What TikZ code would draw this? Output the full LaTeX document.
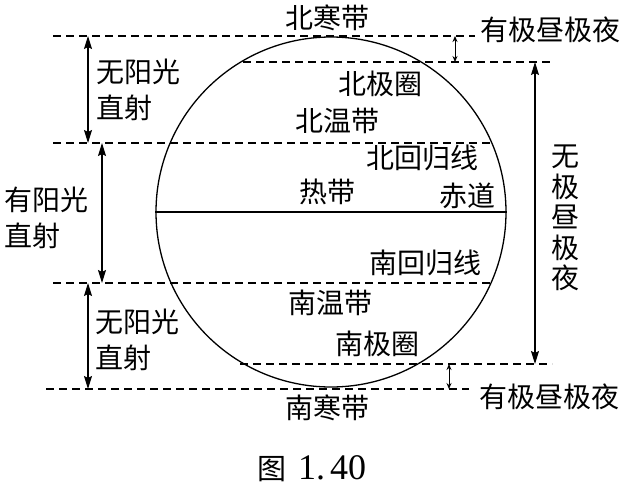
\documentclass[tikz,border=0pt]{standalone}
\usepackage{fontspec}
\setmainfont{Liberation Serif}
\newfontfamily\cjk{Noto Sans CJK SC}
\usetikzlibrary{arrows.meta,positioning}

\begin{document}
\begin{tikzpicture}[
    x=1pt, y=-1pt,
    lab/.style={font=\cjk\fontsize{28}{36}\selectfont, inner sep=0pt},
    side/.style={lab, align=left, anchor=west},
    lat/.style={dash pattern=on 8pt off 5pt, line width=1.1pt},
    spanarrow/.style={{Stealth[length=13pt,width=8pt,inset=2pt]}-{Stealth[length=13pt,width=8pt,inset=2pt]}, line width=1.1pt},
    smallarrow/.style={{Stealth[length=6pt,width=5pt]}-{Stealth[length=6pt,width=5pt]}, line width=0.9pt}
  ]
    \useasboundingbox (0,0) rectangle (632,488);
    \node[circle, draw, line width=1.3pt, minimum size=350pt, inner sep=0pt] (earth) at (331,212) {};
    \node[lab] (nFrigid) at (327,18) {北寒带};
    \node[lab] (dayN) at (550,30) {有极昼极夜};
    \node[lab] (nArctic) at (380,84) {北极圈};
    \node[lab] (nTemp) at (337,121) {北温带};
    \node[lab] (cancer) at (422,158) {北回归线};
    \node[lab] (tropic) at (327,192) {热带};
    \node[lab] (equator) at (467,196) {赤道};
    \node[lab] (capricorn) at (425,263) {南回归线};
    \node[lab] (sTemp) at (330,303) {南温带};
    \node[lab] (sArctic) at (377,344) {南极圈};
    \node[lab] (sFrigid) at (327,408) {南寒带};
    \node[lab] (dayS) at (549,397) {有极昼极夜};
    \node[side] (noSunN) at (96,90) {无阳光\\直射};
    \node[side] (sunZone) at (4,218) {有阳光\\直射};
    \node[side] (noSunS) at (95,340) {无阳光\\直射};
    \node[lab, align=center, font=\cjk\fontsize{28}{30.5}\selectfont] (noDay) at (565,218) {无\\极\\昼\\极\\夜};
    \node[inner sep=0pt, anchor=base west] (fig) at (257,479) {{\cjk\fontsize{29}{34}\selectfont 图}\hspace{12pt}{\fontsize{36}{40}\selectfont 1.\hspace{5pt}40}};
    \coordinate (n1) at (53,36);   \coordinate (n2) at (475,36);
    \coordinate (ac1) at (243,62); \coordinate (ac2) at (552,62);
    \coordinate (tc1) at (53,143); \coordinate (tc2) at (492,143);
    \coordinate (tr1) at (53,283); \coordinate (tr2) at (492,283);
    \coordinate (an1) at (240,364); \coordinate (an2) at (552,364);
    \coordinate (s1) at (46,389);  \coordinate (s2) at (469,389);
    \draw[lat] (n1) -- (n2);
    \draw[lat] (ac1) -- (ac2);
    \draw[lat] (tc1) -- (tc2);
    \draw[lat] (tr1) -- (tr2);
    \draw[lat] (an1) -- (an2);
    \draw[lat] (s1) -- (s2);
    \draw[line width=1.1pt] (earth.west) -- (earth.east);
    \coordinate (u1) at (88,36);   \coordinate (u2) at (88,143);
    \coordinate (m1) at (102,143); \coordinate (m2) at (102,283);
    \coordinate (d1) at (88,283);  \coordinate (d2) at (88,389);
    \coordinate (r1) at (455,36);  \coordinate (r2) at (455,62);
    \coordinate (p1) at (535,62);  \coordinate (p2) at (535,364);
    \coordinate (q1) at (449,364); \coordinate (q2) at (449,389);
    \draw[spanarrow] (u1) -- (u2);
    \draw[spanarrow] (m1) -- (m2);
    \draw[spanarrow] (d1) -- (d2);
    \draw[spanarrow] (p1) -- (p2);
    \draw[smallarrow] (r1) -- (r2);
    \draw[smallarrow] (q1) -- (q2);
  \end{tikzpicture}
\end{document}
